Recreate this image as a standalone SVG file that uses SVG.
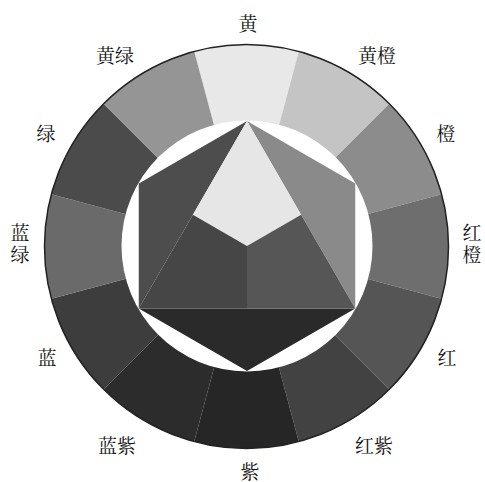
<svg xmlns="http://www.w3.org/2000/svg" width="485" height="482" viewBox="0 0 485 482">
<style>
.lbl{font-family:"Noto Serif CJK SC","Noto Sans CJK SC","Noto Sans CJK JP",serif;font-size:19px;fill:#111;text-anchor:middle;dominant-baseline:central}
.vl{font-family:"Noto Serif CJK SC","Noto Sans CJK SC","Noto Sans CJK JP",serif;font-size:19px;fill:#111;text-anchor:middle;writing-mode:vertical-rl;letter-spacing:3px}
</style>
<rect width="485" height="482" fill="#ffffff"/>
<g id="ring">
<path d="M246.5 246.5 L194.22 51.38 A202 202 0 0 1 298.78 51.38 Z" fill="#e8e8e8"/>
<path d="M246.5 246.5 L298.78 51.38 A202 202 0 0 1 389.33 103.67 Z" fill="#c4c4c4"/>
<path d="M246.5 246.5 L389.33 103.67 A202 202 0 0 1 441.62 194.22 Z" fill="#8c8c8c"/>
<path d="M246.5 246.5 L441.62 194.22 A202 202 0 0 1 441.62 298.78 Z" fill="#6e6e6e"/>
<path d="M246.5 246.5 L441.62 298.78 A202 202 0 0 1 389.33 389.33 Z" fill="#555555"/>
<path d="M246.5 246.5 L389.33 389.33 A202 202 0 0 1 298.78 441.62 Z" fill="#424242"/>
<path d="M246.5 246.5 L298.78 441.62 A202 202 0 0 1 194.22 441.62 Z" fill="#262626"/>
<path d="M246.5 246.5 L194.22 441.62 A202 202 0 0 1 103.67 389.33 Z" fill="#2c2c2c"/>
<path d="M246.5 246.5 L103.67 389.33 A202 202 0 0 1 51.38 298.78 Z" fill="#3d3d3d"/>
<path d="M246.5 246.5 L51.38 298.78 A202 202 0 0 1 51.38 194.22 Z" fill="#6a6a6a"/>
<path d="M246.5 246.5 L51.38 194.22 A202 202 0 0 1 103.67 103.67 Z" fill="#4b4b4b"/>
<path d="M246.5 246.5 L103.67 103.67 A202 202 0 0 1 194.22 51.38 Z" fill="#959595"/>
<circle cx="246.5" cy="246.5" r="202" fill="none" stroke="#222" stroke-width="1.5"/>
<circle cx="247" cy="246" r="125.5" fill="#ffffff"/>
</g>
<g id="hexagon">
<polygon points="247,121 138.75,183.5 138.75,308.5" fill="#4d4d4d"/>
<polygon points="247,121 355.25,183.5 355.25,308.5" fill="#8a8a8a"/>
<polygon points="138.75,308.5 247,371 355.25,308.5" fill="#2a2a2a"/>
<polygon points="247,121 301.1,214.75 247,246 192.9,214.75" fill="#e6e6e6"/>
<polygon points="247,246 301.1,214.75 355.25,308.5 247,308.5" fill="#565656"/>
<polygon points="247,246 192.9,214.75 138.75,308.5 247,308.5" fill="#464646"/>
</g>
<g id="labels">
<text class="lbl" x="248" y="22">黄</text>
<text class="lbl" x="115" y="54">黄绿</text>
<text class="lbl" x="377" y="54">黄橙</text>
<text class="lbl" x="46" y="132">绿</text>
<text class="lbl" x="446" y="132">橙</text>
<text class="vl" x="20" y="245">蓝绿</text>
<text class="vl" x="472" y="245">红橙</text>
<text class="lbl" x="47" y="356">蓝</text>
<text class="lbl" x="447" y="356">红</text>
<text class="lbl" x="117" y="444">蓝紫</text>
<text class="lbl" x="374" y="444">红紫</text>
<text class="lbl" x="250" y="470">紫</text>
</g>
</svg>
